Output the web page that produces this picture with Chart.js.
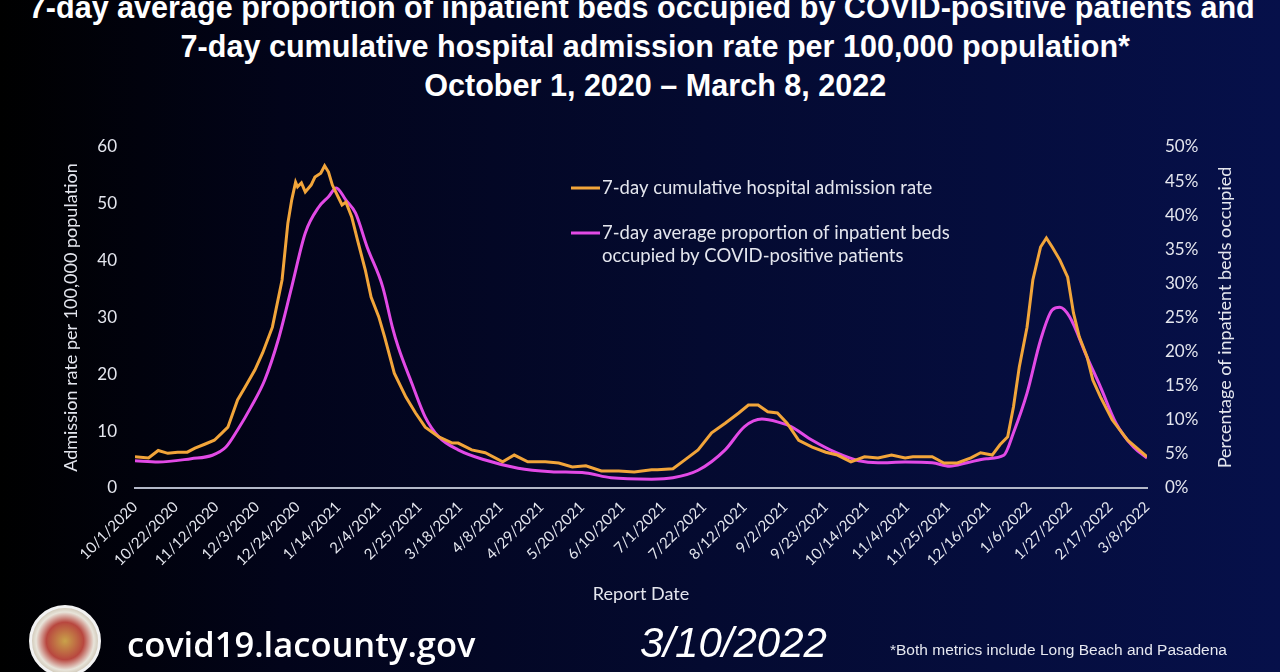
<!DOCTYPE html>
<html>
<head>
<meta charset="utf-8">
<script src="https://cdn.jsdelivr.net/npm/chart.js@4.4.1/dist/chart.umd.min.js"></script>
<style>
  html, body { margin: 0; padding: 0; }
  body {
    width: 1280px; height: 672px; overflow: hidden; position: relative;
    background: linear-gradient(90deg, #000000 0%, #02041a 22%, #040a30 55%, #06104a 100%);
  }
  canvas { position: absolute; left: 0; top: 0; }
  .header {
    position: absolute; left: 0; top: -12px; width: 1280px; text-align: center; white-space: nowrap;
    color: #ffffff; font: bold 32px "Liberation Sans", sans-serif; line-height: 39px;
    transform: scaleX(0.955); transform-origin: 640px 0;
  }
  .header .shift { display: block; position: relative; left: 16px; }
  .site { position: absolute; left: 127px; top: 620px; color: #fff; font: 600 34.5px "Open Sans", sans-serif; }
  .stamp { position: absolute; left: 640px; top: 619px; color: #fff; font: italic 42px "Liberation Sans", sans-serif; }
  .note { position: absolute; left: 890px; top: 641px; color: #e6e8f0; font: 15.5px "Liberation Sans", sans-serif; }
  .seal {
    position: absolute; left: 29px; top: 605px; width: 66px; height: 66px; border-radius: 50%;
    border: 3px solid #f2f2f2;
    background: radial-gradient(circle, #c9a24a 0%, #b8473f 40%, #e8e4da 62%, #8c7a5a 100%);
  }
</style>
</head>
<body>
<div class="header">
  <span class="shift" style="left:0">7-day average proportion of inpatient beds occupied by COVID-positive patients and</span>
  <span class="shift">7-day cumulative hospital admission rate per 100,000 population*</span>
  <span class="shift">October 1, 2020 – March 8, 2022</span>
</div>
<canvas id="hospChart" width="1280" height="672"></canvas>
<div class="seal"></div>
<div class="site">covid19.lacounty.gov</div>
<div class="stamp">3/10/2022</div>
<div class="note">*Both metrics include Long Beach and Pasadena</div>
<script>
// day offsets counted from 10/1/2020
const startDate = Date.UTC(2020, 9, 1);

const tickLabels = ["10/1/2020", "10/22/2020", "11/12/2020", "12/3/2020", "12/24/2020",
  "1/14/2021", "2/4/2021", "2/25/2021", "3/18/2021", "4/8/2021", "4/29/2021", "5/20/2021",
  "6/10/2021", "7/1/2021", "7/22/2021", "8/12/2021", "9/2/2021", "9/23/2021", "10/14/2021",
  "11/4/2021", "11/25/2021", "12/16/2021", "1/6/2022", "1/27/2022", "2/17/2022", "3/8/2022"];

// 7-day cumulative admission rate per 100,000 (left axis)
const admissionDay = [0, 7, 12, 17, 22, 27, 31, 36, 41, 45,
  48, 53, 57, 62, 66, 71, 76, 79, 81, 83,
  84, 86, 88, 91, 93, 96, 98, 100, 102, 105,
  107, 109, 112, 115, 119, 122, 126, 129, 134, 140,
  145, 150, 157, 164, 167, 174, 181, 190, 196, 203,
  212, 219, 226, 233, 241, 250, 258, 267, 270, 278,
  284, 291, 298, 305, 312, 317, 322, 327, 332, 337,
  343, 350, 357, 363, 370, 377, 384, 391, 398, 402,
  412, 418, 425, 432, 437, 443, 447, 451, 454, 457,
  461, 464, 468, 471, 474, 478, 482, 485, 488, 492,
  495, 499, 505, 513, 523];
const admissionRate = [5.5, 5.3, 6.6, 6.1, 6.3, 6.3, 7.0, 7.7, 8.4, 9.7,
  10.7, 15.5, 17.8, 20.8, 23.8, 28.3, 36.6, 46.6, 50.7, 53.8,
  53.0, 53.7, 52.1, 53.3, 54.7, 55.4, 56.7, 55.6, 53.3, 51.2,
  49.8, 50.3, 47.7, 43.6, 38.4, 33.6, 30.1, 26.6, 20.2, 16.0,
  13.2, 10.7, 9.0, 7.9, 7.9, 6.7, 6.2, 4.6, 5.8, 4.6,
  4.6, 4.4, 3.7, 3.9, 3.0, 3.0, 2.8, 3.2, 3.2, 3.4,
  4.9, 6.7, 9.7, 11.4, 13.2, 14.6, 14.6, 13.4, 13.2, 11.4,
  8.4, 7.2, 6.3, 5.8, 4.6, 5.5, 5.3, 5.8, 5.3, 5.5,
  5.5, 4.4, 4.4, 5.3, 6.2, 5.8, 7.6, 9.0, 14.3, 21.3,
  28.3, 36.6, 42.4, 44.0, 42.4, 40.1, 37.1, 30.8, 26.6, 23.1,
  19.0, 16.0, 12.0, 8.4, 5.5];

// 7-day average % of inpatient beds occupied by COVID+ patients (right axis)
const bedDay = [0, 12, 29, 40, 47, 53, 60, 67, 74, 81,
  88, 95, 100, 104, 109, 114, 120, 128, 133, 136,
  143, 150, 157, 167, 181, 198, 215, 233, 246, 267,
  278, 291, 305, 315, 324, 332, 339, 350, 363, 374,
  384, 398, 412, 421, 430, 440, 449, 454, 461, 468,
  474, 478, 483, 492, 499, 507, 516, 523];
const bedPct = [4.0, 3.8, 4.3, 4.8, 6.0, 8.5, 11.9, 15.8, 21.7, 29.5,
  37.4, 41.2, 42.7, 44.0, 42.2, 40.3, 35.3, 29.5, 23.6, 20.7,
  15.4, 10.4, 7.5, 5.6, 4.1, 2.9, 2.4, 2.2, 1.5, 1.3,
  1.5, 2.6, 5.6, 9.0, 10.1, 9.7, 9.0, 7.0, 5.1, 4.0,
  3.7, 3.8, 3.7, 3.2, 3.7, 4.3, 4.8, 8.1, 13.9, 21.7,
  26.1, 26.5, 25.1, 19.2, 14.8, 9.5, 6.0, 4.4];

const legendAdmission = ["7-day cumulative hospital admission rate"];
const legendBeds = ["7-day average proportion of inpatient beds", "occupied by COVID-positive patients"];
const rightTitle = "Percentage of inpatient beds occupied";

const orange = "#f2a53a";
const magenta = "#e24ae6";
const textColor = "#e4e6ee";

const toDay = (s) => {
  const [m, d, y] = s.split("/").map(Number);
  return Math.round((Date.UTC(y, m - 1, d) - startDate) / 86400000);
};
const tickDays = tickLabels.map(toDay);

// legend inside the plot + right axis title reading upwards, as on the slide
const slideExtras = {
  id: "slideExtras",
  afterDraw(chart) {
    const { ctx, chartArea } = chart;
    const x0 = chartArea.left + 436;
    const rows = [
      { color: orange, lines: legendAdmission, y: chartArea.top + 41 },
      { color: magenta, lines: legendBeds, y: chartArea.top + 86 },
    ];
    ctx.save();
    ctx.font = "18.5px Lato";
    ctx.fillStyle = textColor;
    ctx.textBaseline = "middle";
    rows.forEach((r) => {
      ctx.strokeStyle = r.color;
      ctx.lineWidth = 3;
      ctx.beginPath();
      ctx.moveTo(x0, r.y);
      ctx.lineTo(x0 + 29, r.y);
      ctx.stroke();
      r.lines.forEach((t, i) => ctx.fillText(t, x0 + 31, r.y + i * 23));
    });

    ctx.font = "18px Lato";
    ctx.textAlign = "center";
    ctx.translate(1225, (chartArea.top + chartArea.bottom) / 2);
    ctx.rotate(-Math.PI / 2);
    ctx.fillText(rightTitle, 0, 0);
    ctx.restore();
  },
};

const tickFont = { family: "Lato", size: 17 };
const titleFont = { family: "Lato", size: 18 };

new Chart(document.getElementById("hospChart"), {
  type: "line",
  data: {
    datasets: [
      {
        label: legendAdmission.join(" "),
        data: admissionDay.map((d, i) => ({ x: d, y: admissionRate[i] })),
        borderColor: orange,
        borderWidth: 3,
        pointRadius: 0,
        tension: 0,
        yAxisID: "y",
      },
      {
        label: legendBeds.join(" "),
        data: bedDay.map((d, i) => ({ x: d, y: bedPct[i] })),
        borderColor: magenta,
        borderWidth: 3,
        pointRadius: 0,
        cubicInterpolationMode: "monotone",
        yAxisID: "y1",
      },
    ],
  },
  options: {
    responsive: false,
    animation: false,
    layout: { padding: { left: 56, right: 41, top: 147, bottom: 63 } },
    plugins: { legend: { display: false }, tooltip: { enabled: false } },
    scales: {
      x: {
        type: "linear",
        min: 0,
        max: tickDays[tickDays.length - 1],
        grid: { display: false, drawTicks: false },
        border: { display: true, color: "#b3b8c8", width: 2 },
        afterBuildTicks: (axis) => { axis.ticks = tickDays.map((v) => ({ value: v })); },
        afterFit: (s) => { s.height = 121; },
        ticks: {
          autoSkip: false,
          minRotation: 45,
          maxRotation: 45,
          padding: 10,
          color: textColor,
          font: { family: "Lato", size: 15 },
          callback: (v) => tickLabels[tickDays.indexOf(v)],
        },
        title: { display: true, text: "Report Date", color: textColor, font: titleFont },
      },
      y: {
        position: "left",
        min: 0,
        max: 60,
        grid: { display: false, drawTicks: false },
        border: { display: false },
        afterFit: (s) => { s.width = 79; },
        ticks: { stepSize: 10, padding: 18, color: textColor, font: tickFont },
        title: { display: true, text: "Admission rate per 100,000 population", color: textColor, font: titleFont },
      },
      y1: {
        position: "right",
        min: 0,
        max: 50,
        grid: { display: false, drawTicks: false },
        border: { display: false },
        afterFit: (s) => { s.width = 92; },
        ticks: { stepSize: 5, padding: 18, color: textColor, font: tickFont, callback: (v) => v + "%" },
      },
    },
  },
  plugins: [slideExtras],
});
</script>
</body>
</html>
